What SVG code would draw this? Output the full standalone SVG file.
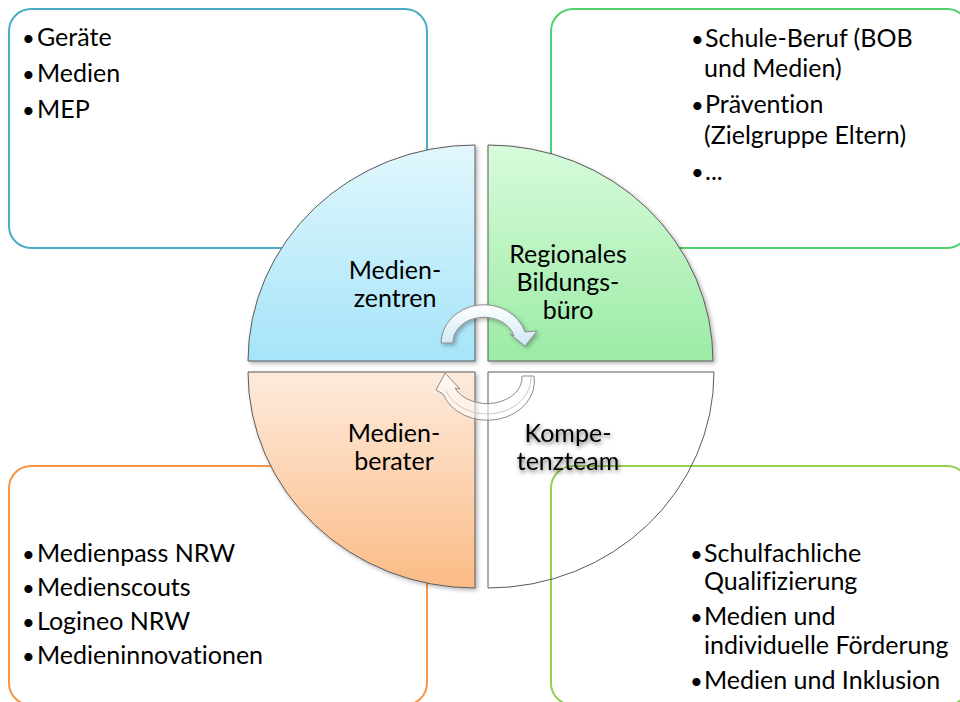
<svg xmlns="http://www.w3.org/2000/svg" width="960" height="702" viewBox="0 0 960 702">
<defs>
  <linearGradient id="gBlue" x1="0" y1="0" x2="0" y2="1"><stop offset="0" stop-color="#e2f7fd"/><stop offset="1" stop-color="#a5e4f9"/></linearGradient>
  <linearGradient id="gGreen" x1="0" y1="0" x2="0" y2="1"><stop offset="0" stop-color="#d8fbdb"/><stop offset="1" stop-color="#9beba5"/></linearGradient>
  <linearGradient id="gOrange" x1="0" y1="0" x2="0" y2="1"><stop offset="0" stop-color="#fdebdd"/><stop offset="1" stop-color="#fbbb85"/></linearGradient>
  <linearGradient id="gArrow" x1="0" y1="0" x2="0" y2="1"><stop offset="0" stop-color="#ffffff"/><stop offset="1" stop-color="#cfe8f5"/></linearGradient>
  <filter id="shadow" x="-10%" y="-10%" width="130%" height="130%">
    <feGaussianBlur in="SourceAlpha" stdDeviation="2"/>
    <feOffset dx="1.5" dy="2" result="o"/>
    <feComponentTransfer in="o" result="s"><feFuncA type="linear" slope="0.3"/></feComponentTransfer>
    <feMerge><feMergeNode in="s"/><feMergeNode in="SourceGraphic"/></feMerge>
  </filter>
  <filter id="tshadow" x="-20%" y="-40%" width="140%" height="190%">
    <feGaussianBlur in="SourceAlpha" stdDeviation="2"/>
    <feOffset dx="1" dy="2" result="o"/>
    <feComponentTransfer in="o" result="s"><feFuncA type="linear" slope="0.6"/></feComponentTransfer>
    <feMerge><feMergeNode in="s"/><feMergeNode in="SourceGraphic"/></feMerge>
  </filter>
</defs>
<style>
  .box{fill:#ffffff;stroke-width:2}
  .q{stroke:#5a5a5a;stroke-width:1}
  .t{font-family:Lato,"Liberation Sans",sans-serif;font-size:25px;fill:#000000;font-variant-ligatures:none}
  .b{font-size:22px}
  .c{text-anchor:middle}
  .arrow{stroke:#8c8c8c;stroke-width:1;stroke-linejoin:round}
</style>

<g id="box-medienzentren">
  <rect class="box" x="9" y="9" width="418" height="239" rx="22" stroke="#4bacc6"/>
  <text class="t" y="46"><tspan class="b" x="22">•</tspan><tspan x="37">Geräte</tspan></text>
  <text class="t" y="82"><tspan class="b" x="22">•</tspan><tspan x="37">Medien</tspan></text>
  <text class="t" y="118"><tspan class="b" x="22">•</tspan><tspan x="37">MEP</tspan></text>
</g>
<g id="box-bildungsbuero">
  <rect class="box" x="551" y="9" width="418" height="239" rx="22" stroke="#50cf6c"/>
  <text class="t" y="47"><tspan class="b" x="691">•</tspan><tspan x="705">Schule-Beruf (BOB</tspan></text>
  <text class="t" x="704" y="77">und Medien)</text>
  <text class="t" y="113"><tspan class="b" x="691">•</tspan><tspan x="705">Prävention</tspan></text>
  <text class="t" x="704" y="144">(Zielgruppe Eltern)</text>
  <text class="t" y="180"><tspan class="b" x="691">•</tspan><tspan x="705">...</tspan></text>
</g>
<g id="box-medienberater">
  <rect class="box" x="9" y="466" width="418" height="239" rx="22" stroke="#f79646"/>
  <text class="t" y="562"><tspan class="b" x="22">•</tspan><tspan x="37">Medienpass NRW</tspan></text>
  <text class="t" y="596"><tspan class="b" x="22">•</tspan><tspan x="37">Medienscouts</tspan></text>
  <text class="t" y="630"><tspan class="b" x="22">•</tspan><tspan x="37">Logineo NRW</tspan></text>
  <text class="t" y="664"><tspan class="b" x="22">•</tspan><tspan x="37">Medieninnovationen</tspan></text>
</g>
<g id="box-kompetenzteam">
  <rect class="box" x="551" y="466" width="418" height="239" rx="22" stroke="#92d050"/>
  <text class="t" y="562"><tspan class="b" x="690">•</tspan><tspan x="704">Schulfachliche</tspan></text>
  <text class="t" x="704" y="590">Qualifizierung</text>
  <text class="t" y="625"><tspan class="b" x="690">•</tspan><tspan x="704">Medien und</tspan></text>
  <text class="t" x="704" y="654">individuelle Förderung</text>
  <text class="t" y="689"><tspan class="b" x="690">•</tspan><tspan x="704">Medien und Inklusion</tspan></text>
</g>

<g id="q-medienzentren">
  <path class="q" filter="url(#shadow)" fill="url(#gBlue)" d="M475,361 L248,361 A227,216 0 0 1 475,145 Z"/>
  <text class="t c" x="395" y="279">Medien-</text>
  <text class="t c" x="395" y="307">zentren</text>
</g>
<g id="q-bildungsbuero">
  <path class="q" filter="url(#shadow)" fill="url(#gGreen)" d="M488,361 L488,145 A225,216 0 0 1 713,361 Z"/>
  <text class="t c" x="568" y="263">Regionales</text>
  <text class="t c" x="568" y="291">Bildungs-</text>
  <text class="t c" x="568" y="319">büro</text>
</g>
<g id="q-medienberater">
  <path class="q" filter="url(#shadow)" fill="url(#gOrange)" d="M475,372 L475,588 A227,216 0 0 1 248,372 Z"/>
  <text class="t c" x="394" y="442">Medien-</text>
  <text class="t c" x="394" y="470">berater</text>
</g>
<g id="q-kompetenzteam">
  <path class="q" fill="none" d="M488,372 L714,372 A226,216 0 0 1 488,588 Z"/>
  <g filter="url(#tshadow)">
    <text class="t c" x="568" y="442">Kompe-</text>
    <text class="t c" x="568" y="470">tenzteam</text>
  </g>
</g>

<g id="connectors">
  <path class="arrow" filter="url(#shadow)" fill="url(#gArrow)" d="M441,343 A43,39 0 0 1 525,332 L537,331 L525,346 L510,334 L514,336 A31,25 0 0 0 453,343 Z"/>
  <path class="arrow" fill="#ffffff" fill-opacity="0.55" d="M534,376 A47,39 0 0 1 443,394 L436,390 L445,373 L460,389 L455,388 A35,26 0 0 0 522,376 Z"/>
  <path fill="none" stroke="#c8c8c8" stroke-width="1" d="M531,377 A44,36 0 0 1 446,391"/>
</g>
</svg>
